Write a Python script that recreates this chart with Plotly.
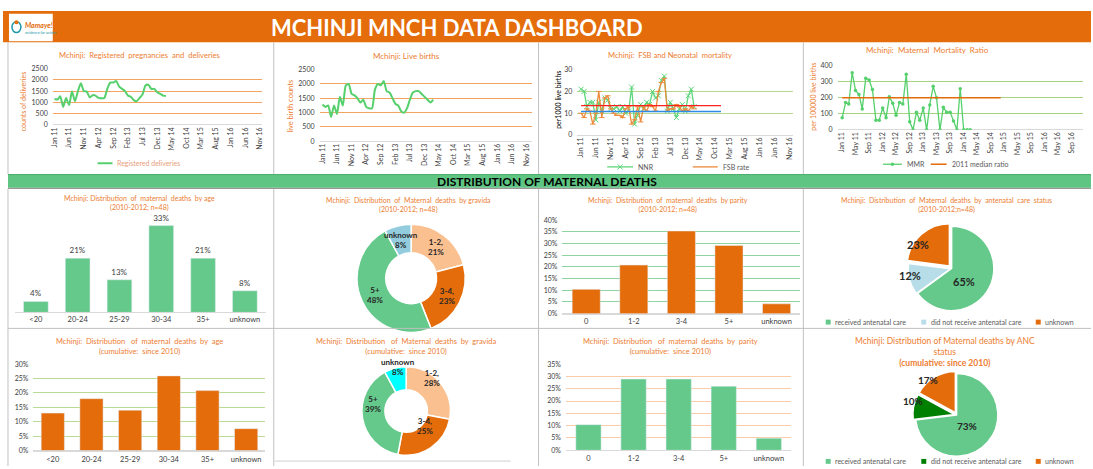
import math
import pandas as pd
import plotly.graph_objects as go

W, H = 1093, 469


def X(px):
    return px / W


def Y(py):
    return 1 - py / H


# ---------------- data ----------------
months = pd.date_range("2011-01-01", periods=39, freq="MS")

registered_deliveries = [1150, 1130, 1270, 800, 1200, 880, 1480, 1050, 1500, 1850,
                         1500, 1480, 1220, 1320, 1300, 1200, 1180, 1200, 1600, 1880,
                         1880, 1950, 1700, 1600, 1500, 1300, 1250, 1100, 1050, 1200,
                         1350, 1750, 1780, 1600, 1600, 1450, 1380, 1300, 1280]

live_births = [1280, 1200, 1250, 850, 1250, 950, 1550, 1250, 1950, 2000,
               1650, 1600, 1500, 1350, 1450, 1200, 1150, 1150, 1800, 2000,
               1950, 2100, 1750, 1700, 1500, 1300, 1250, 1050, 1000, 1150,
               1450, 1700, 1750, 1750, 1650, 1550, 1450, 1350, 1450]

nnr = [21, 20, 13, 15, 15, 7, 15, 11, 17, 16, 12, 12, 13, 11, 13, 10, 11, 22, 5, 9,
       14, 12, 15, 14, 20, 17, 18, 25, 27, 11, 15, 12, 8, 12, 14, 11, 18, 21, 13]

fsb_rate = [10, 8, 12, 11, 5, 10, 20, 8, 17, 18, 12, 10, 9, 9, 8, 12, 13, 5, 7, 13,
            6, 13, 11, 14, 13, 11, 20, 24, 26, 11, 12, 12, 14, 13, 11, 12, 11, 13, 12]

mmr = [75, 170, 160, 355, 245, 220, 130, 320, 310, 250, 60, 60, 135, 75, 205, 165,
       90, 170, 160, 345, 50, 0, 110, 60, 135, 0, 155, 270, 200, 0, 140, 110, 110,
       55, 0, 255, 0, 0, 0]

ref_span = ["2011-01-01", "2014-12-01"]
fsb_ref_red = [13.5, 13.5]
nnr_ref_blue = [10.8, 10.8]
mmr_median_2011 = [200, 200]

age_groups = ["<20", "20-24", "25-29", "30-34", "35+", "unknown"]
age_share_2010_2012 = [4.2, 20.8, 12.5, 33.3, 20.8, 8.3]
age_share_cumulative = [13.0, 18.0, 14.0, 25.9, 20.8, 7.6]

parity_groups = ["0", "1-2", "3-4", "5+", "unknown"]
parity_share_2010_2012 = [10.4, 20.8, 35.4, 29.2, 4.2]
parity_share_cumulative = [10.4, 28.9, 28.9, 26.0, 4.9]

gravida_groups = ["1-2", "3-4", "5+", "unknown"]
gravida_share_2010_2012 = [21, 23, 48, 8]
gravida_share_cumulative = [28, 25, 39, 8]
gravida_text_2010_2012 = ["1-2,<br>21%", "3-4,<br>23%", "5+<br>48%", "unknown<br>8%"]
gravida_text_cumulative = ["1-2,<br>28%", "3-4,<br>25%", "5+<br>39%", "unknown<br>8%"]

anc_groups = ["received antenatal care", "did not receive antenatal care", "unknown"]
anc_share_2010_2012 = [65, 12, 23]
anc_share_cumulative = [73, 10, 17]

# ---------------- styles ----------------
FONT = "Lato"
ORANGE = "#E46C0A"
TITLE_ORANGE = "#ED7D31"
GREEN = "#64C98A"
LINE_GREEN = "#55D06C"
TICK = dict(size=7, color="#404040", family=FONT)

fig = go.Figure()

# chart 1
fig.add_trace(go.Scatter(x=months, y=registered_deliveries, mode="lines",
                         line=dict(color=LINE_GREEN, width=2, shape="spline", smoothing=0.6),
                         xaxis="x", yaxis="y", hoverinfo="skip"))
# chart 2
fig.add_trace(go.Scatter(x=months, y=live_births, mode="lines",
                         line=dict(color=LINE_GREEN, width=2, shape="spline", smoothing=0.6),
                         xaxis="x2", yaxis="y2", hoverinfo="skip"))
# chart 3
fig.add_trace(go.Scatter(x=months, y=nnr, mode="lines+markers",
                         line=dict(color="#5ED67A", width=1.3),
                         marker=dict(symbol="x-thin-open", size=5, line=dict(color="#5ED67A", width=1)),
                         xaxis="x3", yaxis="y3", hoverinfo="skip"))
fig.add_trace(go.Scatter(x=months, y=fsb_rate, mode="lines+markers",
                         line=dict(color="#EE8A3C", width=1.3),
                         marker=dict(symbol="line-ew-open", size=4, line=dict(color="#EE8A3C", width=1)),
                         xaxis="x3", yaxis="y3", hoverinfo="skip"))
fig.add_trace(go.Scatter(x=ref_span, y=fsb_ref_red, mode="lines", line=dict(color="#FF2020", width=1.3),
                         xaxis="x3", yaxis="y3", hoverinfo="skip"))
fig.add_trace(go.Scatter(x=ref_span, y=nnr_ref_blue, mode="lines", line=dict(color="#2E8BE6", width=1.3),
                         xaxis="x3", yaxis="y3", hoverinfo="skip"))
# chart 4
fig.add_trace(go.Scatter(x=months, y=mmr, mode="lines+markers",
                         line=dict(color=LINE_GREEN, width=1.3),
                         marker=dict(symbol="circle", size=3.5, color=LINE_GREEN),
                         xaxis="x4", yaxis="y4", hoverinfo="skip"))
fig.add_trace(go.Scatter(x=ref_span, y=mmr_median_2011, mode="lines", line=dict(color=ORANGE, width=1.5),
                         xaxis="x4", yaxis="y4", hoverinfo="skip"))

# bars
fig.add_trace(go.Bar(x=age_groups, y=age_share_2010_2012, marker_color=GREEN, width=0.59,
                     texttemplate="%{y:.0f}%", textfont=dict(size=8, color="#404040"),
                     textposition="outside", cliponaxis=False,
                     xaxis="x5", yaxis="y5", hoverinfo="skip"))
fig.add_trace(go.Bar(x=parity_groups, y=parity_share_2010_2012, marker_color=ORANGE, width=0.59,
                     xaxis="x6", yaxis="y6", hoverinfo="skip"))
fig.add_trace(go.Bar(x=age_groups, y=age_share_cumulative, marker_color=ORANGE, width=0.6,
                     xaxis="x7", yaxis="y7", hoverinfo="skip"))
fig.add_trace(go.Bar(x=parity_groups, y=parity_share_cumulative, marker_color=GREEN, width=0.56,
                     xaxis="x8", yaxis="y8", hoverinfo="skip"))

# pies
annotations = []
shapes = []


def add_pie(values, labels, colors, cx, cy, R, hole=0.0, pulls=None, texts=None,
            rfrac=0.7, tfont=None):
    pulls = pulls or [0] * len(values)
    Rd = R * (1 + max(pulls))
    fig.add_trace(go.Pie(values=values, labels=labels, hole=hole, sort=False,
                         direction="clockwise", rotation=0, pull=pulls,
                         marker=dict(colors=colors, line=dict(color="white", width=1.5)),
                         textinfo="none", hoverinfo="skip", showlegend=False,
                         domain=dict(x=[X(cx - Rd), X(cx + Rd)], y=[Y(cy + Rd), Y(cy - Rd)])))
    total = sum(values)
    cum = 0
    for v, t, p in zip(values, texts, pulls):
        f = (cum + v / 2) / total
        cum += v
        th = 2 * math.pi * f
        r = R * (rfrac + p)
        annotations.append(dict(x=X(cx + r * math.sin(th)), y=Y(cy - r * math.cos(th)),
                                xref="paper", yref="paper", text=t, showarrow=False,
                                font=tfont, align="center"))


donut_font = dict(size=8, color="#262626", family=FONT, weight="bold")
add_pie(gravida_share_2010_2012, gravida_groups, ["#FAC090", ORANGE, GREEN, "#93CDDD"],
        410, 278, 55, hole=0.47, texts=gravida_text_2010_2012, rfrac=0.735, tfont=donut_font)
add_pie(gravida_share_cumulative, gravida_groups, ["#FAC090", ORANGE, GREEN, "#00FFFF"],
        405, 413, 45, hole=0.48, texts=gravida_text_cumulative, rfrac=0.74, tfont=donut_font)
pie_font = dict(size=11, color="#262626", family=FONT, weight="bold")
add_pie(anc_share_2010_2012, anc_groups, [GREEN, "#B7DEE8", ORANGE], 953, 268, 43,
        pulls=[0, 0.03, 0.08], texts=[f"{v}%" for v in anc_share_2010_2012], rfrac=0.66, tfont=pie_font)
add_pie(anc_share_cumulative, anc_groups, [GREEN, "#008000", ORANGE], 958, 417, 42,
        pulls=[0, 0.06, 0.06], texts=[f"{v}%" for v in anc_share_cumulative], rfrac=0.7,
        tfont=dict(size=10, color="#262626", family=FONT, weight="bold"))


# ---------------- axes ----------------
def date_x(x0, x1, rng, dtick, anchor):
    return dict(domain=[X(x0), X(x1)], type="date", range=rng, tickformat="%b %y",
                dtick=dtick, tick0="2011-01-01", tickangle=-90, tickfont=TICK,
                showgrid=False, showline=False, zeroline=False, ticks="", anchor=anchor)


def val_y(top, bottom, rng, dtick, grid, anchor, suffix="", show=True, gw=1.2):
    return dict(domain=[Y(bottom), Y(top)], range=rng, dtick=dtick, tickfont=TICK,
                showgrid=show, gridcolor=grid, gridwidth=gw, zeroline=True,
                zerolinecolor="#D9D9D9", zerolinewidth=1, showline=False, ticks="",
                ticksuffix=suffix, anchor=anchor, showticklabels=show, ticklabelstandoff=4)


def cat_x(x0, x1, anchor, standoff=0):
    return dict(domain=[X(x0), X(x1)], type="category", tickfont=dict(size=7.5, color="#404040", family=FONT),
                showgrid=False, showline=True, linecolor="#D9D9D9", linewidth=1, ticks="",
                anchor=anchor, ticklabelstandoff=standoff)


layout_axes = dict(
    xaxis=date_x(50, 260, ["2010-12-14", "2016-11-19"], "M5", "y"),
    yaxis=val_y(64.7, 122, [0, 2500], 500, "#F2A460", "x", gw=1.4),
    xaxis2=date_x(318, 531, ["2010-12-01", "2016-12-22"], "M5", "y2"),
    yaxis2=val_y(65.7, 138.7, [0, 2500], 500, "#F2A460", "x2", gw=1.4),
    xaxis3=date_x(577, 794, ["2010-11-24", "2016-12-10"], "M5", "y3"),
    yaxis3=val_y(65.7, 132.3, [0, 30], 10, "#B4D98F", "x3"),
    xaxis4=date_x(838.5, 1085, ["2010-11-21", "2016-12-13"], "M4", "y4"),
    yaxis4=val_y(61.5, 127, [0, 400], 100, "#A6D37F", "x4"),
    xaxis5=cat_x(12, 264, "y5"),
    yaxis5=val_y(212, 312.7, [0, 38], 10, "#FFFFFF", "x5", show=False),
    xaxis6=cat_x(562, 801, "y6"),
    yaxis6=val_y(219, 314, [0, 40], 5, "#8FD3A0", "x6", suffix="%"),
    xaxis7=cat_x(30.6, 263.7, "y7", standoff=1),
    yaxis7=val_y(365.3, 453.3, [0, 30], 5, "#B9DB94", "x7", suffix="%"),
    xaxis8=cat_x(565.5, 792, "y8", standoff=1),
    yaxis8=val_y(365.3, 453, [0, 35], 5, "#F9CBA8", "x8", suffix="%"),
)
layout_axes["yaxis5"]["zeroline"] = False


# ---------------- decoration ----------------
def rect(x0, y0, x1, y1, fill, line=None, lw=0, layer="below"):
    shapes.append(dict(type="rect", xref="paper", yref="paper", x0=X(x0), x1=X(x1),
                       y0=Y(y1), y1=Y(y0), fillcolor=fill,
                       line=dict(color=line or fill, width=lw), layer=layer))


def hline(x0, x1, y, color, w=1):
    shapes.append(dict(type="line", xref="paper", yref="paper", x0=X(x0), x1=X(x1),
                       y0=Y(y), y1=Y(y), line=dict(color=color, width=w)))


def vline(x, y0, y1, color, w=1):
    shapes.append(dict(type="line", xref="paper", yref="paper", x0=X(x), x1=X(x),
                       y0=Y(y0), y1=Y(y1), line=dict(color=color, width=w)))


def text(x, y, t, size=8, color="#404040", anchor="center", angle=0, weight="normal", style="normal"):
    annotations.append(dict(x=X(x), y=Y(y), xref="paper", yref="paper", text=t, showarrow=False,
                            xanchor=anchor, yanchor="middle", textangle=angle,
                            font=dict(size=size, color=color, family=FONT, weight=weight, style=style)))


# header
rect(0, 6, W, 38, ORANGE)
rect(6, 9, 50, 37, "#FFFFFF")
shapes.append(dict(type="circle", xref="paper", yref="paper", x0=X(9), x1=X(18), y0=Y(28), y1=Y(17),
                   line=dict(color="#1F9AA8", width=1.5)))
shapes.append(dict(type="circle", xref="paper", yref="paper", x0=X(11.5), x1=X(15.5), y0=Y(19.5), y1=Y(15.5),
                   fillcolor=ORANGE, line=dict(color=ORANGE, width=0)))
text(20, 20, "Mamaye!", size=7, color=ORANGE, weight="bold", style="italic", anchor="left")
text(20, 28, "evidence for action", size=4, color="#1F9AA8", style="italic", anchor="left")
text(456, 22.5, "MCHINJI MNCH DATA DASHBOARD", size=22, color="#FFFFFF", weight="bold")

# section band
rect(5, 172, W, 186, "#5FC582")
hline(5, W, 172.5, "#4FAF6E", 1)
hline(5, W, 186.5, "#808080", 1)
text(546, 179.5, "DISTRIBUTION OF MATERNAL DEATHS", size=12, color="#000000", weight="bold")

# panel borders
BC = "#C0C0C0"
for xv in (272, 538, 804):
    vline(xv, 38, 172, BC)
    vline(xv, 187, 469, BC)
vline(5, 38, 172, BC)
vline(5, 187, 469, BC)
hline(5, W, 329, BC)
hline(273, 510, 464, "#D0D0D0")

# titles
TS = 7.6
text(137, 51, "Mchinji:  Registered  pregnancies  and  deliveries", size=TS, color=TITLE_ORANGE)
text(405, 52, "Mchinji: Live births", size=8, color=TITLE_ORANGE)
text(670, 51.3, "Mchinji:  FSB and Neonatal  mortality", size=TS, color=TITLE_ORANGE)
text(929, 45.3, "Mchinji:  Maternal  Mortality  Ratio", size=8, color=TITLE_ORANGE)
text(137, 201.5, "Mchinji: Distribution  of  maternal  deaths  by age<br>(2010-2012; n=48)", size=7, color=TITLE_ORANGE)
text(407, 203, "Mchinji:  Distribution  of  Maternal  deaths  by gravida<br>(2010-2012; n=48)", size=7, color=TITLE_ORANGE)
text(668, 203, "Mchinji:  Distribution  of  maternal  deaths  by parity<br>(2010-2012; n=48)", size=7, color=TITLE_ORANGE)
text(947.6, 203.4, "Mchinji:  Distribution  of  Maternal  deaths  by  antenatal  care  status<br>(2010-2012;n=48)", size=7, color=TITLE_ORANGE)
text(137, 347.5, "Mchinji:  Distribution   of  maternal  deaths  by  age<br>(cumulative:  since 2010)", size=7.5, color=TITLE_ORANGE)
text(405, 347.5, "Mchinji:  Distribution   of  Maternal  deaths  by  gravida<br>(cumulative:  since 2010)", size=7.5, color=TITLE_ORANGE)
text(671, 347.5, "Mchinji:  Distribution   of  maternal  deaths  by  parity<br>(cumulative:  since 2010)", size=7.5, color=TITLE_ORANGE)
text(946, 353, "Mchinji: Distribution of Maternal deaths by ANC<br>status<br><b>(cumulative: since 2010)</b>", size=8.5, color=TITLE_ORANGE)

# y-axis titles
text(20, 98, "counts of deliveries", size=7, color=TITLE_ORANGE, angle=-90)
text(288.7, 103, "live birth counts", size=7.5, color=TITLE_ORANGE, angle=-90)
text(558, 96, "per1000 live births", size=7, color="#000000", angle=-90)
text(814, 93, "per 100000 live births", size=7, color=TITLE_ORANGE, angle=-90)

# legends (line charts)
LG = "#595959"
hline(95, 110, 161, LINE_GREEN, 2)
text(113, 161, "Registered deliveries", size=7, color="#E9A07C", anchor="left")

hline(607, 633, 164.7, "#5ED67A", 1.3)
shapes.append(dict(type="line", xref="paper", yref="paper", x0=X(617.5), x1=X(622.5), y0=Y(162.2), y1=Y(167.2),
                   line=dict(color="#5ED67A", width=1)))
shapes.append(dict(type="line", xref="paper", yref="paper", x0=X(617.5), x1=X(622.5), y0=Y(167.2), y1=Y(162.2),
                   line=dict(color="#5ED67A", width=1)))
text(636, 164.7, "NNR", size=7, color=LG, anchor="left")
hline(693, 718, 164.7, "#EE8A3C", 1.3)
text(721, 164.7, "FSB rate", size=7, color=LG, anchor="left")

hline(884, 903, 162, LINE_GREEN, 1.3)
shapes.append(dict(type="circle", xref="paper", yref="paper", x0=X(891.7), x1=X(895.3), y0=Y(163.8), y1=Y(160.2),
                   fillcolor=LINE_GREEN, line=dict(color=LINE_GREEN, width=0)))
text(906, 162, "MMR", size=7, color=LG, anchor="left")
hline(932, 948, 162, ORANGE, 1.5)
text(951, 162, "2011 median ratio", size=7, color=LG, anchor="left")


# legends (pie charts)
def pie_legend(y, colors):
    xs = [829, 925, 1040]
    for xq, c, lab in zip(xs, colors, anc_groups):
        rect(xq - 2.5, y - 2.5, xq + 2.5, y + 2.5, c, layer="above")
        text(xq + 5, y, lab, size=7, color=LG, anchor="left")


pie_legend(322.6, [GREEN, "#B7DEE8", ORANGE])
pie_legend(464.3, [GREEN, "#008000", ORANGE])

fig.update_layout(
    width=W, height=H, margin=dict(l=0, r=0, t=0, b=0),
    paper_bgcolor="#FFFFFF", plot_bgcolor="rgba(0,0,0,0)",
    showlegend=False, font=dict(family=FONT, color="#404040"),
    shapes=shapes, annotations=annotations, bargap=0.4, hovermode=False,
    **layout_axes,
)

fig.write_html("out.html", config={"displayModeBar": False},
               post_script="document.body.style.margin='0px';document.body.style.overflow='hidden';")
